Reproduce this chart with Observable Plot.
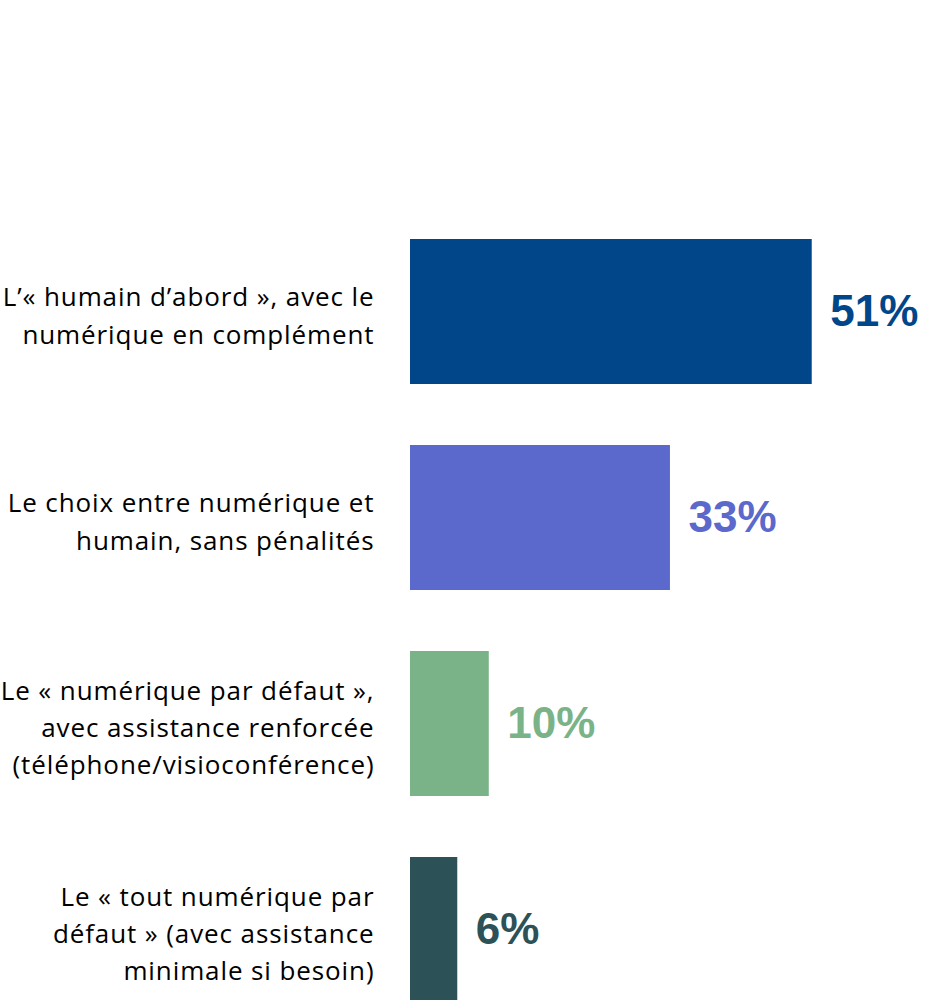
<!DOCTYPE html>
<html>
<head>
<meta charset="utf-8">
<script src="https://cdn.jsdelivr.net/npm/d3@7"></script>
<script src="https://cdn.jsdelivr.net/npm/@observablehq/plot@0.6"></script>
<style>
  html, body { margin: 0; padding: 0; background: #fff; overflow: hidden; }
  g.cat-labels text { letter-spacing: 0.9px; }
</style>
</head>
<body>
<div id="chart"></div>
<script>
const categories = [
  "L’« humain d’abord », avec le\nnumérique en complément",
  "Le choix entre numérique et\nhumain, sans pénalités",
  "Le « numérique par défaut »,\navec assistance renforcée\n(téléphone/visioconférence)",
  "Le « tout numérique par\ndéfaut » (avec assistance\nminimale si besoin)"
];
const values = [51, 33, 10, 6];
const colors = ["#02468a", "#5b68cc", "#7ab387", "#2c5257"];
const valueLabels = ["51%", "33%", "10%", "6%"];

const data = categories.map((c, i) => ({cat: c, value: values[i], color: colors[i], label: valueLabels[i]}));

const chart = Plot.plot({
  width: 927,
  height: 1080,
  marginLeft: 410,
  marginRight: 5,
  marginTop: 176,
  marginBottom: 15,
  x: {domain: [0, 65], axis: null},
  y: {domain: categories, padding: 0.2947, axis: null},
  marks: [
    Plot.barX(data, {x: "value", y: "cat", fill: "color"}),
    Plot.text(data, {
      x: 0, y: "cat", text: "cat", textAnchor: "end", dx: -36, dy: 1,
      fontSize: 26, lineHeight: 1.44, fill: "#000",
      fontFamily: "Open Sans", className: "cat-labels"
    }),
    Plot.text(data, {
      x: "value", y: "cat", text: "label", textAnchor: "start", dx: 18, dy: 0,
      fontSize: 44, fontWeight: "bold", fill: "color",
      fontFamily: "Liberation Sans"
    })
  ]
});
document.getElementById("chart").appendChild(chart);
</script>
</body>
</html>
